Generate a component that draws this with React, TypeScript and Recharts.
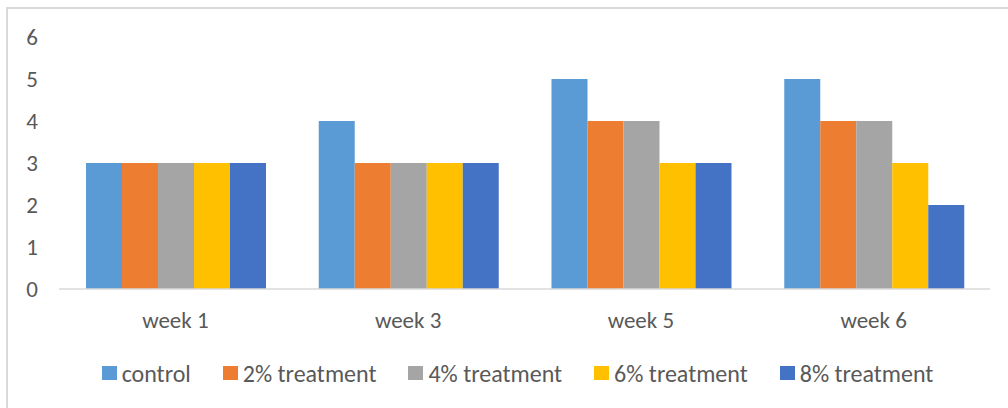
import { BarChart, Bar, XAxis, YAxis, Legend } from 'recharts';

const weeks = ['week 1', 'week 3', 'week 5', 'week 6'];
const control = [3, 4, 5, 5];
const treat2 = [3, 3, 4, 4];
const treat4 = [3, 3, 4, 4];
const treat6 = [3, 3, 3, 3];
const treat8 = [3, 3, 3, 2];
const yTicks = [0, 1, 2, 3, 4, 5, 6];

const series = [
  { key: 'control', name: 'control', color: '#5B9BD5', values: control },
  { key: 't2', name: '2% treatment', color: '#ED7D31', values: treat2 },
  { key: 't4', name: '4% treatment', color: '#A5A5A5', values: treat4 },
  { key: 't6', name: '6% treatment', color: '#FFC000', values: treat6 },
  { key: 't8', name: '8% treatment', color: '#4472C4', values: treat8 },
];

const data = weeks.map((week, i) => {
  const row: Record<string, string | number> = { week };
  series.forEach((s) => {
    row[s.key] = s.values[i];
  });
  return row;
});

const font = 'Calibri, Carlito, Lato, sans-serif';
const textColor = '#595959';

function LegendContent() {
  return (
    <div
      style={{
        display: 'flex',
        justifyContent: 'center',
        alignItems: 'center',
        height: 30,
        fontFamily: font,
        fontSize: 24,
        color: textColor,
        gap: 32,
        paddingLeft: 45,
      }}
    >
      {series.map((s) => (
        <div key={s.key} style={{ display: 'flex', alignItems: 'center' }}>
          <span style={{ width: 15, height: 14, background: s.color, marginRight: 5, display: 'inline-block' }} />
          <span>{s.name}</span>
        </div>
      ))}
    </div>
  );
}

export default function App() {
  return (
    <div style={{ position: 'absolute', left: 0, top: 0, width: 1008, height: 408, background: '#fff', overflow: 'hidden' }}>
      <div
        style={{
          position: 'absolute',
          left: 6,
          top: 7,
          width: 1100,
          height: 500,
          borderLeft: '2px solid #d9d9d9',
          borderTop: '2px solid #d9d9d9',
        }}
      />
      <div style={{ position: 'absolute', left: 0, top: 0 }}>
        <BarChart
          width={1008}
          height={408}
          data={data}
          margin={{ top: 37, right: 18, bottom: 20, left: 0 }}
          barCategoryGap={27}
          barGap={0}
        >
          <XAxis
            dataKey="week"
            height={69}
            tickLine={false}
            axisLine={{ stroke: '#d9d9d9', strokeWidth: 1.5 }}
            tickMargin={17}
            tick={{ fill: textColor, fontSize: 23, fontFamily: font }}
          />
          <YAxis
            width={59}
            domain={[0, 6]}
            ticks={yTicks}
            interval={0}
            axisLine={false}
            tickLine={false}
            tickMargin={15}
            tick={{ fill: textColor, fontSize: 23, fontFamily: font }}
          />
          <Legend verticalAlign="bottom" height={30} content={<LegendContent />} />
          {series.map((s) => (
            <Bar key={s.key} dataKey={s.key} name={s.name} fill={s.color} isAnimationActive={false} />
          ))}
        </BarChart>
      </div>
    </div>
  );
}
